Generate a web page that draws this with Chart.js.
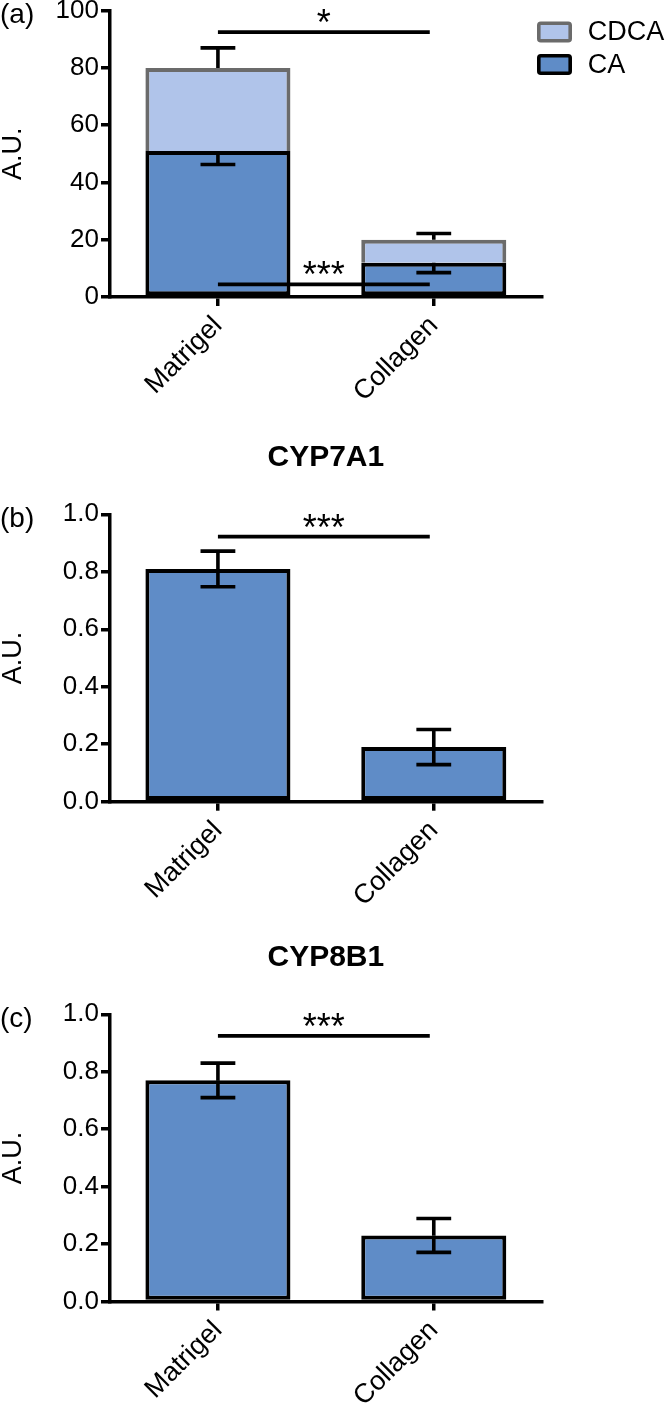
<!DOCTYPE html>
<html>
<head>
<meta charset="utf-8">
<script src="https://cdn.jsdelivr.net/npm/chart.js@4.4.1/dist/chart.umd.min.js"></script>
<style>
  body { margin: 0; background: #fff; width: 666px; height: 1403px; position: relative; overflow: hidden; }
  .panel { position: absolute; left: 0; width: 666px; }
</style>
</head>
<body>
<div class="panel" style="top:-10px;height:420px"><canvas id="chartA"></canvas></div>
<div class="panel" style="top:440px;height:480px"><canvas id="chartB"></canvas></div>
<div class="panel" style="top:940px;height:463px"><canvas id="chartC"></canvas></div>
<script>
const categories = ['Matrigel', 'Collagen'];

// (a) bile acids, stacked
const caValues = [51, 12];
const cdcaValues = [29, 8];
const caErrDown = [4.7, 3.5];
const totalErrUp = [7, 2.2];
const ticksA = [0, 20, 40, 60, 80, 100];
const sigA = [{ y: 92.5, text: '*' }, { y: 4.4, text: '***' }];

// (b) CYP7A1
const cyp7a1Values = [0.81, 0.19];
const cyp7a1Err = [0.062, 0.061];
const sigB = [{ y: 0.922, text: '***' }];

// (c) CYP8B1
const cyp8b1Values = [0.77, 0.23];
const cyp8b1Err = [0.06, 0.059];
const sigC = [{ y: 0.925, text: '***' }];

const ticksBC = [0, 0.2, 0.4, 0.6, 0.8, 1.0];

const FONT = "'Liberation Sans', Arial, Helvetica, sans-serif";
Chart.defaults.font.family = FONT;
Chart.defaults.color = '#000';

const caFill = '#5f8cc7';
const cdcaFill = '#b0c4ea';
const cdcaLine = '#6b6b6b';

// error bars, significance bars, panel letter, legend
const extras = {
  id: 'extras',
  afterDatasetsDraw(chart, args, opts) {
    const ctx = chart.ctx;
    const xs = chart.scales.x, ys = chart.scales.y;
    const area = chart.chartArea;
    ctx.save();
    ctx.strokeStyle = '#000';
    ctx.lineWidth = 3.6;
    ctx.lineCap = 'butt';

    (opts.errors || []).forEach(e => {
      const meta = chart.getDatasetMeta(e.dataset);
      meta.data.forEach((el, i) => {
        const top = ys.getValueForPixel(el.y);
        const cap = el.width * 0.12;
        const ends = [];
        if (e.up) ends.push(top + e.up[i]);
        if (e.down) ends.push(top - e.down[i]);
        ends.forEach(v => {
          const py = ys.getPixelForValue(v);
          ctx.beginPath();
          ctx.moveTo(el.x, el.y);
          ctx.lineTo(el.x, py);
          ctx.moveTo(el.x - cap, py);
          ctx.lineTo(el.x + cap, py);
          ctx.stroke();
        });
      });
    });

    (opts.sig || []).forEach(s => {
      const x0 = xs.getPixelForValue(0);
      const x1 = xs.getPixelForValue(1) - 4;
      const py = ys.getPixelForValue(s.y);
      ctx.lineWidth = 3.8;
      ctx.beginPath();
      ctx.moveTo(x0, py);
      ctx.lineTo(x1, py);
      ctx.stroke();
      ctx.fillStyle = '#000';
      ctx.font = '36px ' + FONT;
      ctx.textAlign = 'center';
      ctx.textBaseline = 'alphabetic';
      ctx.fillText(s.text, (x0 + x1) / 2, py + 3);
    });

    if (opts.letter) {
      ctx.fillStyle = '#000';
      ctx.font = '28px ' + FONT;
      ctx.textAlign = 'left';
      ctx.textBaseline = 'middle';
      ctx.fillText(opts.letter, 0, area.top + 5);
    }

    if (opts.legend) {
      ctx.font = '27px ' + FONT;
      ctx.textAlign = 'left';
      ctx.textBaseline = 'middle';
      const bx = area.right - 2.9, by = area.top + 12.5;
      opts.legend.forEach((item, k) => {
        const ds = chart.data.datasets[item];
        const y = by + k * 32.5;
        ctx.beginPath();
        ctx.roundRect(bx, y, 31.4, 17.6, 2);
        ctx.fillStyle = ds.backgroundColor;
        ctx.fill();
        ctx.lineWidth = 3.6;
        ctx.strokeStyle = ds.borderColor;
        ctx.stroke();
        ctx.fillStyle = '#000';
        ctx.fillText(ds.label, bx + 49, y + 9.5);
      });
    }
    ctx.restore();
  }
};

function yScale(max, ticks, fmt) {
  return {
    min: 0,
    max: max,
    afterFit: s => { s.width = 110; },
    afterBuildTicks: s => { s.ticks = ticks.map(v => ({ value: v })); },
    border: { display: true, color: '#000', width: 3.5 },
    grid: { display: true, drawOnChartArea: false, drawTicks: true, tickLength: 9, color: '#000', lineWidth: 3.5 },
    ticks: { color: '#000', font: { size: 26 }, padding: 2, callback: fmt },
    title: { display: true, text: 'A.U.', color: '#000', font: { size: 27, lineHeight: 1 }, padding: 0 }
  };
}

function xScale(h, stacked) {
  return {
    stacked: stacked,
    offset: true,
    afterFit: s => { s.height = h; },
    border: { display: true, color: '#000', width: 3.5 },
    grid: { display: true, offset: false, drawOnChartArea: false, tickLength: 9, color: '#000', lineWidth: 3.5 },
    ticks: { color: '#000', font: { size: 27 }, minRotation: 45, maxRotation: 45, padding: 4 }
  };
}

const barCommon = { barPercentage: 0.672, categoryPercentage: 1, borderWidth: 4 };

new Chart(document.getElementById('chartA'), {
  type: 'bar',
  data: {
    labels: categories,
    datasets: [
      Object.assign({ label: 'CA', data: caValues, backgroundColor: caFill, borderColor: '#000', borderSkipped: false }, barCommon),
      Object.assign({ label: 'CDCA', data: cdcaValues, backgroundColor: cdcaFill, borderColor: cdcaLine }, barCommon)
    ]
  },
  options: {
    responsive: true,
    maintainAspectRatio: false,
    animation: false,
    layout: { padding: { top: 20.7, right: 124.3, left: 0, bottom: 0 } },
    scales: {
      x: xScale(113, true),
      y: Object.assign(yScale(100, ticksA, v => String(v)), { stacked: true })
    },
    plugins: {
      legend: { display: false },
      tooltip: { enabled: false },
      extras: {
        errors: [{ dataset: 1, up: totalErrUp }, { dataset: 0, down: caErrDown }],
        sig: sigA,
        letter: '(a)',
        legend: [1, 0]
      }
    }
  },
  plugins: [extras]
});

function singleChart(id, title, values, errs, sig, letter, xh) {
  new Chart(document.getElementById(id), {
    type: 'bar',
    data: {
      labels: categories,
      datasets: [Object.assign({ label: title, data: values, backgroundColor: caFill, borderColor: '#000', borderSkipped: false }, barCommon)]
    },
    options: {
      responsive: true,
      maintainAspectRatio: false,
      animation: false,
      layout: { padding: { top: 0, right: 124.3, left: 0, bottom: 0 } },
      scales: {
        x: xScale(xh, false),
        y: yScale(1, ticksBC, v => v.toFixed(1))
      },
      plugins: {
        legend: { display: false },
        tooltip: { enabled: false },
        title: {
          display: true, text: title, fullSize: false, color: '#000',
          font: { size: 30, weight: 'bold', lineHeight: 1.2 },
          padding: { top: 0, bottom: 38.3 }
        },
        extras: {
          errors: [{ dataset: 0, up: errs, down: errs }],
          sig: sig,
          letter: letter
        }
      }
    },
    plugins: [extras]
  });
}

singleChart('chartB', 'CYP7A1', cyp7a1Values, cyp7a1Err, sigB, '(b)', 118.3);
singleChart('chartC', 'CYP8B1', cyp8b1Values, cyp8b1Err, sigC, '(c)', 101.5);
</script>
</body>
</html>
